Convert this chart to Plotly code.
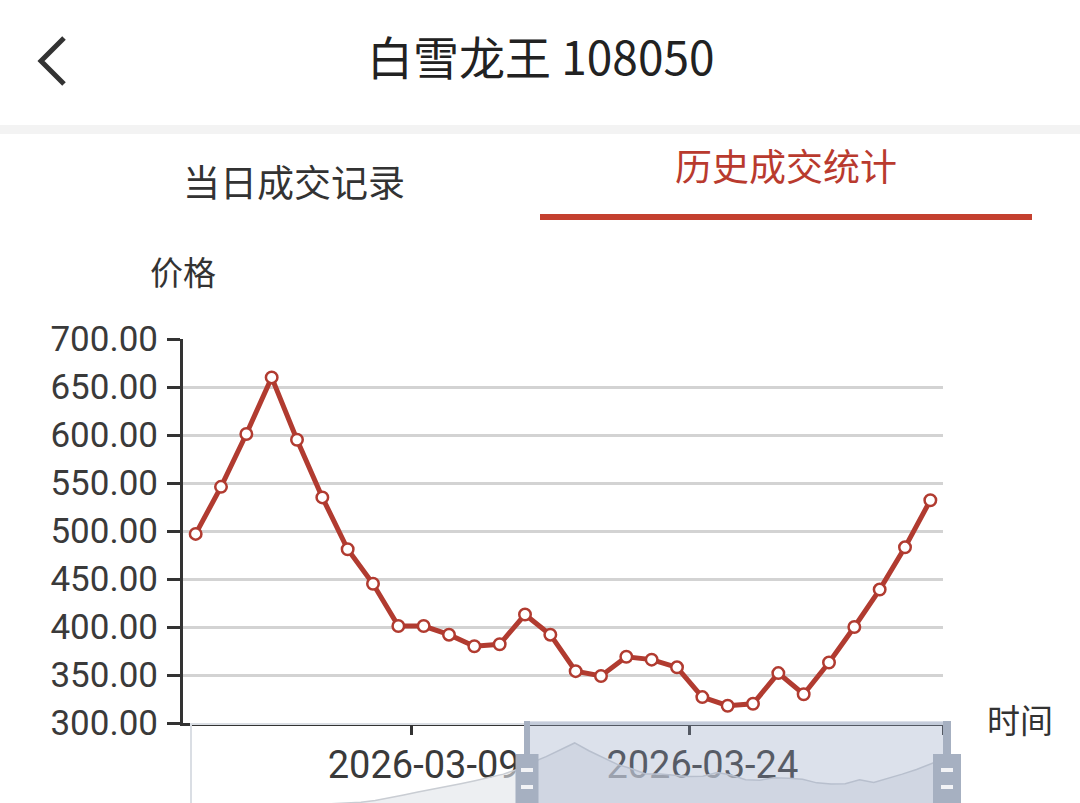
import plotly.graph_objects as go

W, H = 1080, 803

# ---------------- data ----------------
earlier_dates = ["2026-01-27", "2026-01-28", "2026-01-29", "2026-01-30", "2026-01-31",
                 "2026-02-01", "2026-02-02", "2026-02-03", "2026-02-05", "2026-02-06",
                 "2026-02-07", "2026-02-08", "2026-02-09", "2026-02-10", "2026-02-12",
                 "2026-02-13", "2026-02-14", "2026-02-16", "2026-02-17", "2026-02-18",
                 "2026-02-20", "2026-02-21", "2026-02-23", "2026-02-24"]
earlier_prices = [105, 102, 108, 112, 118, 122, 128, 133, 138, 145, 150, 156,
                  165, 180, 200, 225, 250, 272, 295, 320, 345, 372, 400, 440]

dates = ["2026-02-25", "2026-02-26", "2026-02-27", "2026-02-28", "2026-03-01",
         "2026-03-02", "2026-03-04", "2026-03-05", "2026-03-07", "2026-03-09",
         "2026-03-10", "2026-03-11", "2026-03-13", "2026-03-14", "2026-03-15",
         "2026-03-17", "2026-03-18", "2026-03-20", "2026-03-21", "2026-03-23",
         "2026-03-24", "2026-03-25", "2026-03-26", "2026-03-27", "2026-03-28",
         "2026-03-30", "2026-03-31", "2026-04-01", "2026-04-02", "2026-04-03"]
prices = [497, 546, 601, 660, 595, 535, 481, 445, 401, 401,
          392, 380, 382, 413, 392, 354, 349, 369, 366, 358,
          327, 318, 320, 352, 330, 363, 400, 439, 483, 532]

label_dates = ["2026-03-09", "2026-03-24"]
y_ticks = [300, 350, 400, 450, 500, 550, 600, 650, 700]

title_text = "白雪龙王 108050"
tab_left = "当日成交记录"
tab_right = "历史成交统计"
y_name = "价格"
x_name = "时间"

# ---------------- derived ----------------
all_dates = earlier_dates + dates
all_prices = earlier_prices + prices
n_all = len(all_dates)
start = len(earlier_dates)
idx_all = list(range(n_all))
idx_vis = idx_all[start:]
label_idx = [all_dates.index(d) for d in label_dates]
tick_marks = [i - 0.5 for i in label_idx] + [n_all - 0.5]

RED = "#b13b30"
CJK = "Noto Sans CJK SC, Noto Sans, sans-serif"
NUM = "Roboto, Noto Sans, sans-serif"


def px(x):
    return x / W


def py(y):
    return 1 - y / H


fig = go.Figure()

# slider data shadow (full data)
fig.add_trace(go.Scatter(
    x=idx_all, y=all_prices, xaxis="x2", yaxis="y2", mode="lines",
    line=dict(color="#c9cdd3", width=1.5), fill="tozeroy",
    fillcolor="rgba(225,228,233,0.6)", hoverinfo="skip", showlegend=False))

# main line
fig.add_trace(go.Scatter(
    x=idx_vis, y=prices, mode="lines+markers",
    line=dict(color=RED, width=5),
    marker=dict(size=11.5, color="white", line=dict(color=RED, width=2.5)),
    showlegend=False, cliponaxis=False))

fig.update_layout(
    width=W, height=H, autosize=False,
    margin=dict(l=0, r=0, t=0, b=0, pad=0, autoexpand=False),
    paper_bgcolor="white", plot_bgcolor="white",
    xaxis=dict(
        domain=[px(183), px(943)],
        range=[start - 0.5, n_all - 0.5],
        tickmode="array", tickvals=label_idx,
        ticktext=[all_dates[i] for i in label_idx],
        ticks="", showgrid=False, zeroline=False,
        showline=True, linecolor="#333333", linewidth=3,
        tickfont=dict(family=NUM, size=38, color="#3a3a3a"),
        ticklabelstandoff=6,
        minor=dict(tickmode="array", tickvals=tick_marks, ticks="outside",
                   ticklen=9, tickwidth=3, tickcolor="#333333", showgrid=False),
    ),
    yaxis=dict(
        domain=[1 - 723 / H, 1 - 339 / H],
        range=[300, 700],
        tickmode="array", tickvals=y_ticks, tickformat=".2f",
        ticks="outside", ticklen=13, tickwidth=3, tickcolor="#333333",
        showline=True, linecolor="#333333", linewidth=3,
        showgrid=True, gridcolor="#d3d3d3", gridwidth=2.5, zeroline=False,
        tickfont=dict(family=NUM, size=35, color="#3a3a3a"),
        ticklabelstandoff=2,
    ),
    xaxis2=dict(domain=[px(190), px(945)], range=[0, n_all - 1], visible=False,
                anchor="y2"),
    yaxis2=dict(domain=[0, 1 - 723 / H], range=[159, 826.5], visible=False,
                anchor="x2"),
)

shapes = []
# header separator band
shapes.append(dict(type="rect", xref="paper", yref="paper", x0=0, x1=1,
                   y0=py(134), y1=py(125), line=dict(width=0),
                   fillcolor="#f3f3f3", layer="below"))
# back chevron
shapes.append(dict(type="path", xref="paper", yref="paper",
                   path=f"M {px(64)} {py(38)} L {px(41)} {py(61)} L {px(64)} {py(84)}",
                   line=dict(color="#333333", width=5)))
# tab underline
shapes.append(dict(type="rect", xref="paper", yref="paper", x0=px(540), x1=px(1032),
                   y0=py(220), y1=py(214), line=dict(width=0), fillcolor="#c4402f"))
# slider frame
shapes.append(dict(type="rect", xref="paper", yref="paper", x0=px(191), x1=px(946),
                   y0=py(840), y1=py(724), line=dict(color="#dadee4", width=2),
                   fillcolor="rgba(0,0,0,0)", layer="above"))
# selected window
shapes.append(dict(type="rect", xref="paper", yref="paper", x0=px(527), x1=px(947),
                   y0=py(840), y1=py(722), line=dict(color="rgba(160,172,195,0.5)", width=1.5),
                   fillcolor="rgba(150,165,195,0.33)", layer="above"))
# handles
HC = "#a6b0c1"
for cx, bw, hw in [(527, 6, 23), (947, 8, 28)]:
    shapes.append(dict(type="rect", xref="paper", yref="paper",
                       x0=px(cx - bw / 2), x1=px(cx + bw / 2), y0=py(755), y1=py(721),
                       line=dict(width=0), fillcolor=HC, layer="above"))
    shapes.append(dict(type="rect", xref="paper", yref="paper",
                       x0=px(cx - hw / 2), x1=px(cx + hw / 2), y0=py(840), y1=py(754),
                       line=dict(width=0), fillcolor=HC, layer="above"))
    for my in (770, 787):
        shapes.append(dict(type="rect", xref="paper", yref="paper",
                           x0=px(cx - 6), x1=px(cx + 6), y0=py(my + 2), y1=py(my - 2),
                           line=dict(width=0), fillcolor="rgba(255,255,255,0.85)",
                           layer="above"))
fig.update_layout(shapes=shapes)

annotations = [
    dict(text=title_text, x=px(540), y=py(55), xref="paper", yref="paper",
         showarrow=False, xanchor="center", yanchor="middle",
         font=dict(family=CJK, size=46, color="#222222")),
    dict(text=tab_left, x=px(294), y=py(181), xref="paper", yref="paper",
         showarrow=False, xanchor="center", yanchor="middle",
         font=dict(family=CJK, size=37, color="#333333")),
    dict(text=tab_right, x=px(786), y=py(165), xref="paper", yref="paper",
         showarrow=False, xanchor="center", yanchor="middle",
         font=dict(family=CJK, size=37, color="#b93a2e")),
    dict(text=y_name, x=px(183), y=py(271), xref="paper", yref="paper",
         showarrow=False, xanchor="center", yanchor="middle",
         font=dict(family=CJK, size=33, color="#333333")),
    dict(text=x_name, x=px(1020), y=py(719), xref="paper", yref="paper",
         showarrow=False, xanchor="center", yanchor="middle",
         font=dict(family=CJK, size=33, color="#333333")),
]
fig.update_layout(annotations=annotations)

fig.write_html("out.html", config={"responsive": False, "displayModeBar": False},
               post_script="document.body.style.margin='0';document.body.style.overflow='hidden';")
